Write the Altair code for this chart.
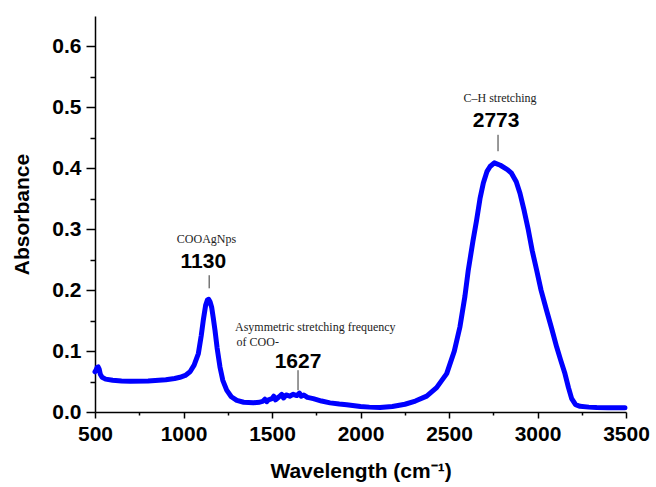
import altair as alt
import pandas as pd

# Spectrum (wavenumber cm-1, absorbance)
wn = [500, 506, 512, 518, 524, 530, 540, 560, 600, 650, 700, 800, 900, 950, 980,
      1010, 1037, 1060, 1084, 1100, 1112, 1125, 1135, 1142, 1150, 1159, 1168, 1178,
      1190, 1206, 1222, 1244, 1270, 1301, 1340, 1395, 1430, 1450, 1460, 1470, 1480,
      1500, 1510, 1520, 1540, 1555, 1565, 1580, 1600, 1620, 1640, 1655, 1665, 1680,
      1700, 1733, 1780, 1828, 1880, 1922, 2000, 2050, 2110, 2180, 2251, 2310, 2374,
      2430, 2487, 2530, 2562, 2590, 2609, 2635, 2656, 2675, 2694, 2715, 2732, 2756,
      2790, 2830, 2853, 2880, 2901, 2925, 2948, 2970, 2995, 3020, 3051, 3080, 3108,
      3130, 3155, 3175, 3193, 3215, 3240, 3290, 3334, 3400, 3494]
absorb = [0.066, 0.069, 0.073, 0.074, 0.070, 0.062, 0.057, 0.054, 0.052, 0.051, 0.0505,
          0.051, 0.053, 0.055, 0.057, 0.060, 0.066, 0.077, 0.096, 0.125, 0.151, 0.175,
          0.184, 0.185, 0.181, 0.172, 0.155, 0.134, 0.105, 0.074, 0.052, 0.036, 0.025,
          0.019, 0.016, 0.015, 0.016, 0.018, 0.021, 0.017, 0.020, 0.022, 0.026, 0.020,
          0.025, 0.029, 0.023, 0.028, 0.026, 0.029, 0.027, 0.031, 0.026, 0.028, 0.024,
          0.022, 0.018, 0.015, 0.013, 0.012, 0.009, 0.008, 0.0075, 0.009, 0.0127, 0.018,
          0.026, 0.040, 0.063, 0.100, 0.140, 0.190, 0.233, 0.280, 0.315, 0.350, 0.376,
          0.395, 0.403, 0.409, 0.405, 0.398, 0.392, 0.378, 0.359, 0.330, 0.299, 0.265,
          0.233, 0.200, 0.167, 0.137, 0.107, 0.086, 0.063, 0.040, 0.022, 0.012, 0.0094,
          0.008, 0.0072, 0.007, 0.007]

x_ticks = [500, 1000, 1500, 2000, 2500, 3000, 3500]
x_minor = [750, 1250, 1750, 2250, 2750, 3250]
y_ticks = [0.0, 0.1, 0.2, 0.3, 0.4, 0.5, 0.6]
y_minor = [0.05, 0.15, 0.25, 0.35, 0.45, 0.55]

# Annotations
centre_text = ["COOAgNps", "C\u2013H stretching"]
centre_x = [1130, 2788]
centre_y = [0.284, 0.516]
left_text = ["Asymmetric stretching frequency", "of COO-"]
left_x = [1291, 1300]
left_y = [0.139, 0.115]
num_text = ["1130", "1627", "2773"]
num_x = [1112, 1647, 2766]
num_y = [0.246, 0.082, 0.477]
lead_x = [1145, 1647, 2777]
lead_y1 = [0.2245, 0.0686, 0.455]
lead_y2 = [0.203, 0.0357, 0.428]

spec = pd.DataFrame({"wn": wn, "a": absorb})
centre_df = pd.DataFrame({"t": centre_text, "x": centre_x, "y": centre_y})
left_df = pd.DataFrame({"t": left_text, "x": left_x, "y": left_y})
num_df = pd.DataFrame({"t": num_text, "x": num_x, "y": num_y})
lead_df = pd.DataFrame({"x": lead_x, "y1": lead_y1, "y2": lead_y2})

FONT = "Liberation Sans"
xscale = alt.Scale(domain=[500, 3500], nice=False, zero=False)
yscale = alt.Scale(domain=[0, 0.65], nice=False, zero=True)

axis_common = dict(
    grid=False, domainColor="black", domainWidth=1.5, tickColor="black", tickWidth=1.5,
    labelFont=FONT, labelFontWeight="bold", labelFontSize=21, labelColor="black",
    titleFont=FONT, titleFontWeight="bold", titleFontSize=21, titleColor="black",
    labelFlush=False, labelOverlap=False,
)

main = alt.Chart(spec).mark_line(color="#0000FF", strokeWidth=5, strokeCap="round",
                                 strokeJoin="round").encode(
    x=alt.X("wn:Q", scale=xscale,
            axis=alt.Axis(values=x_ticks, format="d", tickSize=6, labelPadding=5,
                          title="Wavelength (cm\u207b\u00b9)", titlePadding=16,
                          orient="bottom", **axis_common)),
    y=alt.Y("a:Q", scale=yscale,
            axis=alt.Axis(values=y_ticks, format=".1f", tickSize=9, labelPadding=5,
                          title="Absorbance", titlePadding=19, orient="left",
                          **axis_common)),
)

minor = alt.Chart(spec).mark_line(opacity=0).encode(
    x=alt.X("wn:Q", scale=xscale,
            axis=alt.Axis(values=x_minor, labels=False, domain=False, tickSize=3,
                          tickColor="black", tickWidth=1.5, title=None, grid=False,
                          orient="bottom")),
    y=alt.Y("a:Q", scale=yscale,
            axis=alt.Axis(values=y_minor, labels=False, domain=False, tickSize=5,
                          tickColor="black", tickWidth=1.5, title=None, grid=False,
                          orient="left")),
)

centre = alt.Chart(centre_df).mark_text(font="Liberation Serif", fontSize=12,
                                        color="#222222", baseline="middle",
                                        align="center").encode(
    x=alt.X("x:Q", scale=xscale, axis=None),
    y=alt.Y("y:Q", scale=yscale, axis=None),
    text="t:N",
)

left = alt.Chart(left_df).mark_text(font="Liberation Serif", fontSize=12,
                                    color="#222222", baseline="middle",
                                    align="left").encode(
    x=alt.X("x:Q", scale=xscale, axis=None),
    y=alt.Y("y:Q", scale=yscale, axis=None),
    text="t:N",
)

nums = alt.Chart(num_df).mark_text(font=FONT, fontSize=21, fontWeight="bold",
                                   color="black", baseline="middle").encode(
    x=alt.X("x:Q", scale=xscale, axis=None),
    y=alt.Y("y:Q", scale=yscale, axis=None),
    text="t:N",
)

leads = alt.Chart(lead_df).mark_rule(color="#333333", strokeWidth=1).encode(
    x=alt.X("x:Q", scale=xscale, axis=None),
    y=alt.Y("y1:Q", scale=yscale, axis=None),
    y2="y2:Q",
)

chart = alt.layer(main, minor, centre, left, nums, leads).resolve_axis(
    x="independent", y="independent"
).properties(
    width=531, height=396,
    autosize=alt.AutoSizeParams(type="none"),
    padding={"left": 95, "top": 16, "right": 30, "bottom": 75},
    background="white",
).configure_view(stroke=None)

chart.save("out.html", embed_options={"renderer": "svg", "actions": False})
